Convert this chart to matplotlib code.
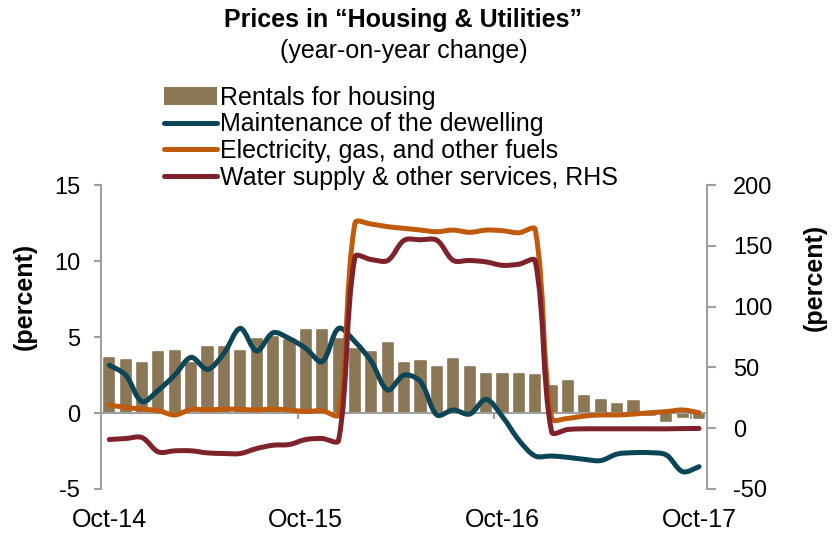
import numpy as np
import matplotlib
matplotlib.use("Agg")
import matplotlib.pyplot as plt
from matplotlib.path import Path
from matplotlib.patches import PathPatch, Patch
from matplotlib.lines import Line2D

plt.rcParams["font.family"] = ["Liberation Sans", "DejaVu Sans"]
plt.rcParams["axes.unicode_minus"] = False

# monthly data, Oct-14 .. Oct-17
tick_labels = ["Oct-14", "Oct-15", "Oct-16", "Oct-17"]

rentals = [3.6, 3.5, 3.3, 4.0, 4.08, 3.3, 4.34, 4.34, 4.08, 4.85, 4.98, 4.8,
           5.46, 5.46, 4.9, 4.19, 4.03, 4.58, 3.27, 3.44, 3.05, 3.53, 3.0, 2.6,
           2.55, 2.55, 2.5, 1.78, 2.13, 1.12, 0.86, 0.59, 0.79, -0.15, -0.5, -0.28, -0.35]

maintenance = [3.15, 2.5, 0.75, 1.5, 2.5, 3.66, 2.87, 3.93, 5.57, 4.08, 5.28, 4.9,
               4.25, 3.38, 5.57, 4.69, 3.38, 1.51, 2.5, 2.06, -0.13, 0.2, -0.07, 0.9,
               -0.24, -1.78, -2.83, -2.83, -2.92, -3.05, -3.13, -2.7, -2.61, -2.61, -2.76, -3.86, -3.53]

electricity = [0.53, 0.37, 0.26, 0.15, -0.13, 0.24, 0.2, 0.26, 0.24, 0.2, 0.26, 0.2,
               0.1, 0.15, -0.1, 12.5, 12.43, 12.26, 12.15, 12.04, 11.93, 12.04, 11.89, 12.04,
               12.0, 11.86, 12.08, -0.35, -0.35, -0.2, -0.13, -0.13, -0.07, 0.02, 0.09, 0.2, 0.02]

water = [-9.3, -8.5, -7.7, -19.5, -18.6, -18.6, -20.3, -20.8, -20.8, -16.7, -14.0, -13.4,
         -9.3, -8.5, -10.0, 140.9, 138.7, 138.0, 154.6, 155.0, 154.6, 138.0, 138.0, 136.8,
         134.0, 134.9, 137.6, -3.0, -1.0, -0.5, -0.5, -0.5, -0.5, -0.5, -0.5, -0.3, -0.2]

BAR_C = "#8b7755"
MAINT_C = "#0c4556"
ELEC_C = "#c05a0c"
WATER_C = "#7e232b"
GRAY = "#a0a0a0"


def smooth_path(axis, xs, ys, k=1.0 / 3):
    """Bezier path through the points (chord-weighted tangents, like a
    smoothed office-chart line), built in screen space."""
    tr = axis.transData
    p = tr.transform(np.column_stack([xs, ys]))
    n = len(p)
    tang = np.zeros_like(p)
    tang[0] = p[1] - p[0]
    tang[-1] = p[-1] - p[-2]
    tang[1:-1] = p[2:] - p[:-2]
    d = np.hypot(*(p[1:] - p[:-1]).T)
    verts = [p[0]]
    codes = [Path.MOVETO]
    for i in range(n - 1):
        if i == 0:
            w_out = 0.5
        else:
            w_out = d[i] / (d[i - 1] + d[i])
        if i + 1 == n - 1:
            w_in = 0.5
        else:
            w_in = d[i] / (d[i] + d[i + 1])
        c1 = p[i] + tang[i] * w_out * k
        c2 = p[i + 1] - tang[i + 1] * w_in * k
        verts += [c1, c2, p[i + 1]]
        codes += [Path.CURVE4] * 3
    verts = tr.inverted().transform(np.array(verts))
    return Path(verts, codes)


x = np.arange(len(rentals)) + 0.5

fig = plt.figure(figsize=(8.35, 5.36), dpi=100)
ax = fig.add_axes([0.121, 0.0877, 0.726, 0.567])
ax2 = ax.twinx()

ax.set_xlim(0, len(rentals))
ax.set_ylim(-5, 15)
ax2.set_ylim(-50, 200)
ax.set_yticks([-5, 0, 5, 10, 15])
ax2.set_yticks([-50, 0, 50, 100, 150, 200])

# bars with slightly rounded corners (edge in the same colour, round joins)
ax.bar(x, rentals, width=0.62, color=BAR_C, edgecolor=BAR_C, linewidth=1.2,
       joinstyle="round", zorder=1)
for vals, col in [(maintenance, MAINT_C), (electricity, ELEC_C)]:
    ax.add_patch(PathPatch(smooth_path(ax, x, vals), facecolor="none", edgecolor=col,
                           lw=3.6, capstyle="round", joinstyle="round", zorder=3))
ax2.add_patch(PathPatch(smooth_path(ax2, x, water), facecolor="none", edgecolor=WATER_C,
                        lw=3.6, capstyle="round", joinstyle="round", zorder=3))

# spines
for s in ["top", "right"]:
    ax.spines[s].set_visible(False)
for s in ["top", "left", "bottom"]:
    ax2.spines[s].set_visible(False)
ax.spines["left"].set_color(GRAY)
ax.spines["bottom"].set_color(GRAY)
ax.spines["bottom"].set_position(("data", 0))
ax.spines["bottom"].set_zorder(2)
ax2.spines["right"].set_color(GRAY)
for sp in [ax.spines["left"], ax.spines["bottom"], ax2.spines["right"]]:
    sp.set_linewidth(1.5)

ax.set_xticks([0, 12, 24, 36])
ax.set_xticklabels([])
ax.tick_params(axis="x", direction="out", length=4, width=1.5, color=GRAY)
ax.tick_params(axis="y", direction="out", length=5, width=1.5, color=GRAY,
               labelsize=17, pad=10)
ax2.tick_params(axis="y", direction="out", length=6.5, width=1.5, color=GRAY,
                labelsize=17, pad=12)

sec = ax.secondary_xaxis("bottom")
sec.set_xticks([0.5, 12.5, 24.5, 36.5])
sec.set_xticklabels(tick_labels)
sec.tick_params(length=0, labelsize=18, pad=14)
sec.spines["bottom"].set_visible(False)

ax.set_ylabel("(percent)", fontsize=18, fontweight="bold")
ax.yaxis.set_label_coords(-0.106, 0.635)
ax2.set_ylabel("(percent)", fontsize=18, fontweight="bold", rotation=90)
ax2.yaxis.set_label_coords(1.158, 0.697)

fig.text(403 / 835, 1 - 20 / 536, "Prices in \u201cHousing & Utilities\u201d", ha="center",
         va="center", fontsize=18, fontweight="bold")
fig.text(404 / 835, 1 - 51 / 536, "(year-on-year change)", ha="center", va="center",
         fontsize=18)

handles = [
    Patch(facecolor=BAR_C, edgecolor="none"),
    Line2D([], [], color=MAINT_C, lw=3.6, solid_capstyle="round"),
    Line2D([], [], color=ELEC_C, lw=3.6, solid_capstyle="round"),
    Line2D([], [], color=WATER_C, lw=3.6, solid_capstyle="round"),
]
labels = ["Rentals for housing", "Maintenance of the dewelling",
          "Electricity, gas, and other fuels", "Water supply & other services, RHS"]
fig.legend(handles, labels, loc="upper left", bbox_to_anchor=(164 / 835, 1 - 86 / 536),
           frameon=False, fontsize=18, handlelength=2.1, handleheight=0.75,
           handletextpad=0.12, labelspacing=0.1, borderpad=0, borderaxespad=0)

fig.savefig("out.png", dpi=100)
